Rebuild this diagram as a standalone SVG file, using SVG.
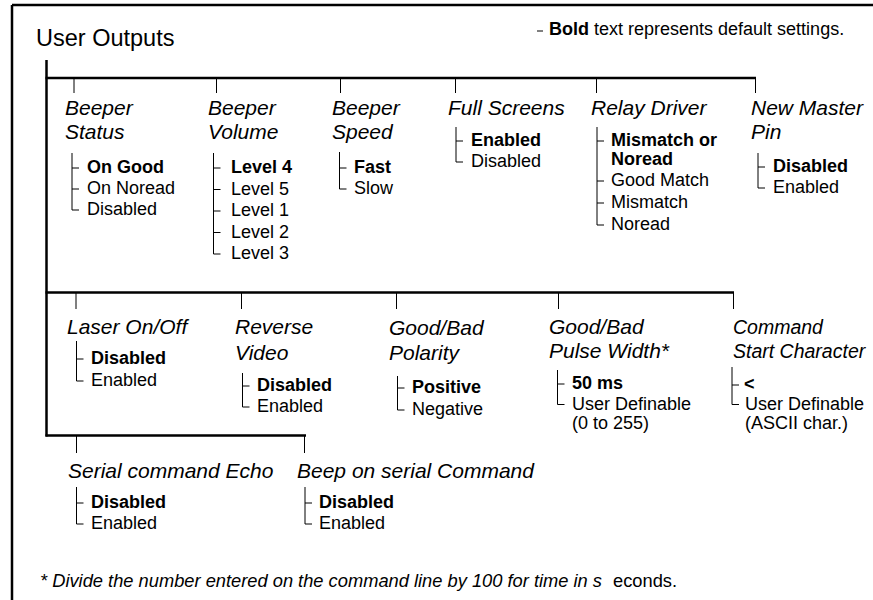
<svg xmlns="http://www.w3.org/2000/svg" width="873" height="600" viewBox="0 0 873 600">
<style>
text{font-family:"Liberation Sans",Arial,Helvetica,sans-serif;fill:#000}
.title{font-size:23.5px}
.cat{font-size:21px;font-style:italic}
.cat2{font-size:19.5px;font-style:italic}
.opt{font-size:18px}
.b{font-weight:bold}
.note{font-size:18px}
.fn{font-size:18.3px}
.thick{stroke:#000;stroke-width:2.5;fill:none}
.thin{stroke:#000;stroke-width:1;fill:none}
</style>
<rect width="873" height="600" fill="#fff"/>
<g id="frame">
<path class="thick" d="M12,5 H873 M12,5 V600"/>
</g>
<g id="title"><text class="title" x="36" y="45.5">User Outputs</text></g>
<g id="legend">
<path class="thin" d="M537,31 H543"/>
<text class="note" x="549" y="35"><tspan class="b">Bold</tspan> text represents default settings.</text>
</g>
<g id="connectors">
<path class="thick" d="M46.5,60 V436.5"/>
<path class="thick" d="M45.5,78 H756 M45.5,292.5 H734 M45.5,435.5 H306"/>
<path class="thin" d="M74,78 V93 M216.5,78 V93 M340.5,78 V93 M455.5,78 V93 M596.5,78 V93 M755.5,78 V93"/>
<path class="thin" d="M76,292 V309 M241.5,292 V309 M396.5,292 V309 M558.5,292 V309 M733.5,292 V309"/>
<path class="thin" d="M76.5,435 V453 M304.5,435 V453"/>
</g>
<g id="beeper-status">
<text class="cat" x="65" y="115">Beeper</text><text class="cat" x="65" y="139">Status</text>
<path class="thin" d="M72,153 V210 M72,168 H79 M72,189 H79 M72,210 H79"/>
<text class="opt b" x="87" y="173">On Good</text>
<text class="opt" x="87" y="194">On Noread</text>
<text class="opt" x="87" y="215">Disabled</text>
</g>
<g id="beeper-volume">
<text class="cat" x="208" y="115">Beeper</text><text class="cat" x="208" y="139">Volume</text>
<path class="thin" d="M213.5,153 V254 M213.5,168 H220.5 M213.5,189.5 H220.5 M213.5,211 H220.5 M213.5,232.5 H220.5 M213.5,254 H220.5"/>
<text class="opt b" x="231" y="173">Level 4</text>
<text class="opt" x="231" y="194.5">Level 5</text>
<text class="opt" x="231" y="216">Level 1</text>
<text class="opt" x="231" y="237.5">Level 2</text>
<text class="opt" x="231" y="259">Level 3</text>
</g>
<g id="beeper-speed">
<text class="cat" x="332" y="115">Beeper</text><text class="cat" x="332" y="139">Speed</text>
<path class="thin" d="M339.5,152 V189 M339.5,168 H346.5 M339.5,189 H346.5"/>
<text class="opt b" x="354" y="173">Fast</text>
<text class="opt" x="354" y="194">Slow</text>
</g>
<g id="full-screens">
<text class="cat" x="448" y="115">Full Screens</text>
<path class="thin" d="M456,127 V162 M456,141 H463 M456,162 H463"/>
<text class="opt b" x="471" y="146">Enabled</text>
<text class="opt" x="471" y="167">Disabled</text>
</g>
<g id="relay-driver">
<text class="cat" x="591" y="115">Relay Driver</text>
<path class="thin" d="M597,127 V225 M597,141 H604 M597,181 H604 M597,203 H604 M597,225 H604"/>
<text class="opt b" x="611" y="146">Mismatch or</text>
<text class="opt b" x="611" y="165">Noread</text>
<text class="opt" x="611" y="186">Good Match</text>
<text class="opt" x="611" y="208">Mismatch</text>
<text class="opt" x="611" y="230">Noread</text>
</g>
<g id="new-master-pin">
<text class="cat" x="751" y="115">New Master</text><text class="cat" x="751" y="139">Pin</text>
<path class="thin" d="M758,153 V188 M758,167 H765 M758,188 H765"/>
<text class="opt b" x="773" y="172">Disabled</text>
<text class="opt" x="773" y="193">Enabled</text>
</g>
<g id="laser-on-off">
<text class="cat" x="67" y="334">Laser On/Off</text>
<path class="thin" d="M76.5,341 V381 M76.5,359 H83.5 M76.5,381 H83.5"/>
<text class="opt b" x="91" y="364">Disabled</text>
<text class="opt" x="91" y="386">Enabled</text>
</g>
<g id="reverse-video">
<text class="cat" x="235" y="334">Reverse</text><text class="cat" x="235" y="360">Video</text>
<path class="thin" d="M242.5,373 V407 M242.5,386 H249.5 M242.5,407 H249.5"/>
<text class="opt b" x="257" y="391">Disabled</text>
<text class="opt" x="257" y="412">Enabled</text>
</g>
<g id="good-bad-polarity">
<text class="cat" x="389" y="335">Good/Bad</text><text class="cat" x="389" y="360">Polarity</text>
<path class="thin" d="M397.5,376 V410 M397.5,388 H404.5 M397.5,410 H404.5"/>
<text class="opt b" x="412" y="393">Positive</text>
<text class="opt" x="412" y="415">Negative</text>
</g>
<g id="good-bad-pulse-width">
<text class="cat" x="549" y="334">Good/Bad</text><text class="cat" x="549" y="358">Pulse Width*</text>
<path class="thin" d="M557.5,370 V404.5 M557.5,384 H564.5 M557.5,404.5 H564.5"/>
<text class="opt b" x="572" y="389">50 ms</text>
<text class="opt" x="572" y="409.5">User Definable</text>
<text class="opt" x="572" y="428.5">(0 to 255)</text>
</g>
<g id="command-start-character">
<text class="cat2" x="733" y="334">Command</text><text class="cat2" x="733" y="358">Start Character</text>
<path class="thin" d="M732,367 V404.5 M732,385 H739 M732,404.5 H739"/>
<text class="opt b" x="744" y="390">&lt;</text>
<text class="opt" x="745" y="409.5">User Definable</text>
<text class="opt" x="745" y="428.5">(ASCII char.)</text>
</g>
<g id="serial-command-echo">
<text class="cat" x="68" y="478">Serial command Echo</text>
<path class="thin" d="M76.5,487 V524 M76.5,503 H83.5 M76.5,524 H83.5"/>
<text class="opt b" x="91" y="508">Disabled</text>
<text class="opt" x="91" y="529">Enabled</text>
</g>
<g id="beep-on-serial-command">
<text class="cat" x="297" y="478">Beep on serial Command</text>
<path class="thin" d="M305,487 V524 M305,503 H312 M305,524 H312"/>
<text class="opt b" x="319" y="508">Disabled</text>
<text class="opt" x="319" y="529">Enabled</text>
</g>
<g id="footnote">
<text class="fn" x="40" y="587"><tspan font-style="italic">* Divide the number entered on the command line by 100 for time in s</tspan></text>
<text class="fn" x="613" y="587">econds.</text>
</g>
</svg>
